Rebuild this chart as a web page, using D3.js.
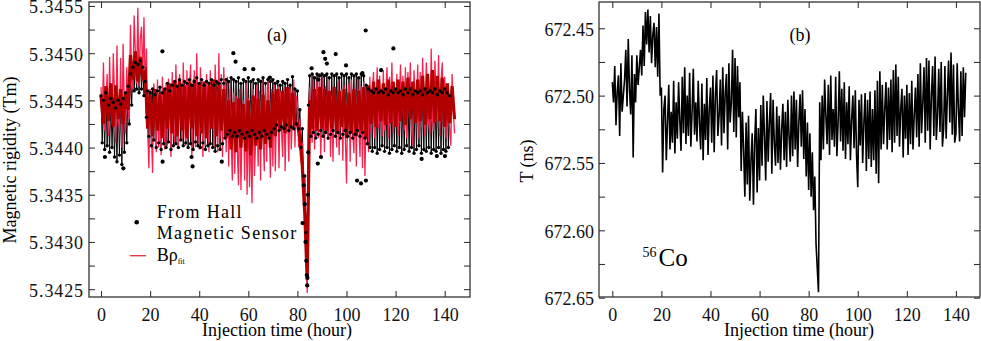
<!DOCTYPE html>
<html>
<head>
<meta charset="utf-8">
<script src="https://cdn.jsdelivr.net/npm/d3@7"></script>
<style>
body { margin: 0; background: #fff; }
svg { display: block; font-family: "Liberation Serif", "Times New Roman", Times, serif; }
.axis line { stroke: #333; stroke-width: 1.1; }
.axis path { display: none; }
.axis text { font-family: "Liberation Serif", "Times New Roman", Times, serif; font-size: 18px; fill: #111; }
</style>
</head>
<body>
<svg id="chart" width="981" height="341"></svg>
<script>
// sampling grid of the traces (hours)
const hours = d3.range(0, 144.01, 0.5);
const hoursCore = d3.range(0, 144.01, 1);

// (a) B rho fit, every 0.5 h
const rhoFit = [
  5.34464, 5.34430, 5.34490, 5.34418, 5.34450, 5.34478, 5.34412, 5.34496, 5.34440, 5.34425,
  5.34500, 5.34455, 5.34405, 5.34508, 5.34430, 5.34420, 5.34495, 5.34400, 5.34510, 5.34445,
  5.34415, 5.34485, 5.34440, 5.34430, 5.34530, 5.34470, 5.34462, 5.34540, 5.34500, 5.34468,
  5.34548, 5.34465, 5.34515, 5.34528, 5.34470, 5.34538, 5.34460, 5.34505, 5.34420, 5.34378,
  5.34462, 5.34420, 5.34373, 5.34468, 5.34440, 5.34395, 5.34472, 5.34400, 5.34450, 5.34392,
  5.34475, 5.34430, 5.34398, 5.34468, 5.34402, 5.34473, 5.34445, 5.34390, 5.34480, 5.34420,
  5.34405, 5.34488, 5.34440, 5.34400, 5.34478, 5.34455, 5.34408, 5.34490, 5.34425, 5.34402,
  5.34482, 5.34410, 5.34460, 5.34488, 5.34392, 5.34445, 5.34482, 5.34400, 5.34500, 5.34430,
  5.34398, 5.34485, 5.34450, 5.34390, 5.34470, 5.34402, 5.34478, 5.34435, 5.34395, 5.34482,
  5.34420, 5.34472, 5.34400, 5.34488, 5.34445, 5.34395, 5.34500, 5.34410, 5.34478, 5.34390,
  5.34485, 5.34440, 5.34395, 5.34475, 5.34380, 5.34462, 5.34410, 5.34365, 5.34458, 5.34372,
  5.34455, 5.34400, 5.34360, 5.34462, 5.34355, 5.34430, 5.34450, 5.34365, 5.34468, 5.34350,
  5.34452, 5.34358, 5.34420, 5.34341, 5.34462, 5.34370, 5.34410, 5.34468, 5.34380, 5.34460,
  5.34365, 5.34472, 5.34420, 5.34375, 5.34465, 5.34385, 5.34475, 5.34430, 5.34368, 5.34462,
  5.34380, 5.34470, 5.34375, 5.34440, 5.34465, 5.34378, 5.34460, 5.34420, 5.34390, 5.34464,
  5.34375, 5.34458, 5.34430, 5.34385, 5.34462, 5.34398, 5.34440, 5.34472, 5.34400, 5.34455,
  5.34445, 5.34400, 5.34430, 5.34385, 5.34405, 5.34340, 5.34370, 5.34290, 5.34246, 5.34412,
  5.34464, 5.34430, 5.34405, 5.34478, 5.34398, 5.34450, 5.34470, 5.34410, 5.34479, 5.34392,
  5.34440, 5.34475, 5.34395, 5.34465, 5.34420, 5.34408, 5.34472, 5.34390, 5.34455, 5.34385,
  5.34462, 5.34430, 5.34400, 5.34470, 5.34392, 5.34445, 5.34462, 5.34386, 5.34466, 5.34415,
  5.34362, 5.34450, 5.34468, 5.34385, 5.34472, 5.34420, 5.34394, 5.34460, 5.34380, 5.34475,
  5.34425, 5.34390, 5.34465, 5.34378, 5.34470, 5.34370, 5.34440, 5.34462, 5.34395, 5.34475,
  5.34415, 5.34460, 5.34480, 5.34410, 5.34445, 5.34485, 5.34420, 5.34476, 5.34438, 5.34412,
  5.34482, 5.34418, 5.34455, 5.34485, 5.34410, 5.34475, 5.34440, 5.34490, 5.34415, 5.34468,
  5.34428, 5.34478, 5.34412, 5.34450, 5.34488, 5.34430, 5.34476, 5.34418, 5.34485, 5.34410,
  5.34480, 5.34445, 5.34490, 5.34420, 5.34402, 5.34482, 5.34450, 5.34428, 5.34488, 5.34410,
  5.34480, 5.34422, 5.34495, 5.34440, 5.34412, 5.34490, 5.34460, 5.34425, 5.34415, 5.34505,
  5.34430, 5.34418, 5.34492, 5.34455, 5.34428, 5.34498, 5.34412, 5.34470, 5.34490, 5.34420,
  5.34475, 5.34410, 5.34450, 5.34468, 5.34420, 5.34402, 5.34478, 5.34440, 5.34415
];

// (a) dense core of the fit, every 1 h
const rhoFitCore = [
  5.34455, 5.34425, 5.34465, 5.34428, 5.34468, 5.34422, 5.34466, 5.34430, 5.34462, 5.34425,
  5.34458, 5.34440, 5.34498, 5.34472, 5.34502, 5.34470, 5.34496, 5.34475, 5.34480, 5.34420,
  5.34460, 5.34412, 5.34462, 5.34418, 5.34458, 5.34410, 5.34463, 5.34420, 5.34468, 5.34415,
  5.34470, 5.34412, 5.34472, 5.34418, 5.34466, 5.34410, 5.34470, 5.34420, 5.34472, 5.34412,
  5.34468, 5.34415, 5.34470, 5.34410, 5.34466, 5.34420, 5.34472, 5.34412, 5.34468, 5.34418,
  5.34462, 5.34410, 5.34450, 5.34398, 5.34448, 5.34395, 5.34452, 5.34400, 5.34446, 5.34396,
  5.34450, 5.34392, 5.34455, 5.34402, 5.34452, 5.34398, 5.34456, 5.34404, 5.34450, 5.34400,
  5.34458, 5.34412, 5.34462, 5.34418, 5.34460, 5.34415, 5.34464, 5.34420, 5.34458, 5.34425,
  5.34425, 5.34410, 5.34380, 5.34330, 5.34260, 5.34450, 5.34420, 5.34462, 5.34418, 5.34464,
  5.34420, 5.34462, 5.34418, 5.34460, 5.34420, 5.34464, 5.34416, 5.34460, 5.34422, 5.34462,
  5.34410, 5.34458, 5.34415, 5.34462, 5.34412, 5.34460, 5.34418, 5.34464, 5.34410, 5.34466,
  5.34425, 5.34470, 5.34422, 5.34472, 5.34428, 5.34468, 5.34424, 5.34472, 5.34426, 5.34470,
  5.34422, 5.34472, 5.34428, 5.34470, 5.34424, 5.34474, 5.34430, 5.34470, 5.34426, 5.34472,
  5.34428, 5.34476, 5.34424, 5.34478, 5.34430, 5.34482, 5.34426, 5.34476, 5.34428, 5.34474,
  5.34422, 5.34468, 5.34426, 5.34465, 5.34430
];

// (a) Hall magnetic sensor, every 0.5 h
const rhoHall = [
  5.34455, 5.34405, 5.34450, 5.34398, 5.34458, 5.34402, 5.34445, 5.34395, 5.34452, 5.34400,
  5.34448, 5.34390, 5.34442, 5.34385, 5.34450, 5.34392, 5.34446, 5.34382, 5.34452, 5.34395,
  5.34458, 5.34405, 5.34465, 5.34425, 5.34478, 5.34445, 5.34485, 5.34460, 5.34490, 5.34462,
  5.34488, 5.34458, 5.34492, 5.34462, 5.34485, 5.34455, 5.34470, 5.34432, 5.34460, 5.34412,
  5.34458, 5.34402, 5.34462, 5.34408, 5.34456, 5.34400, 5.34460, 5.34405, 5.34464, 5.34398,
  5.34458, 5.34404, 5.34462, 5.34400, 5.34468, 5.34406, 5.34460, 5.34398, 5.34466, 5.34402,
  5.34470, 5.34404, 5.34465, 5.34400, 5.34472, 5.34408, 5.34466, 5.34402, 5.34470, 5.34405,
  5.34468, 5.34400, 5.34472, 5.34404, 5.34466, 5.34398, 5.34470, 5.34406, 5.34474, 5.34402,
  5.34468, 5.34400, 5.34472, 5.34405, 5.34466, 5.34398, 5.34470, 5.34402, 5.34468, 5.34404,
  5.34472, 5.34400, 5.34466, 5.34396, 5.34470, 5.34402, 5.34468, 5.34398, 5.34472, 5.34404,
  5.34468, 5.34410, 5.34472, 5.34414, 5.34470, 5.34418, 5.34474, 5.34412, 5.34472, 5.34416,
  5.34470, 5.34412, 5.34474, 5.34418, 5.34468, 5.34414, 5.34472, 5.34410, 5.34470, 5.34416,
  5.34474, 5.34412, 5.34470, 5.34418, 5.34472, 5.34414, 5.34468, 5.34410, 5.34472, 5.34416,
  5.34470, 5.34412, 5.34474, 5.34418, 5.34468, 5.34414, 5.34472, 5.34410, 5.34470, 5.34416,
  5.34472, 5.34420, 5.34468, 5.34424, 5.34470, 5.34418, 5.34466, 5.34422, 5.34470, 5.34420,
  5.34468, 5.34424, 5.34472, 5.34418, 5.34466, 5.34422, 5.34475, 5.34420, 5.34462, 5.34425,
  5.34460, 5.34420, 5.34440, 5.34400, 5.34420, 5.34370, 5.34370, 5.34310, 5.34254, 5.34445,
  5.34476, 5.34412, 5.34478, 5.34416, 5.34474, 5.34410, 5.34478, 5.34414, 5.34476, 5.34418,
  5.34478, 5.34412, 5.34476, 5.34416, 5.34478, 5.34410, 5.34474, 5.34414, 5.34478, 5.34418,
  5.34476, 5.34412, 5.34478, 5.34416, 5.34474, 5.34410, 5.34478, 5.34414, 5.34476, 5.34418,
  5.34478, 5.34412, 5.34474, 5.34416, 5.34478, 5.34410, 5.34476, 5.34414, 5.34478, 5.34418,
  5.34474, 5.34412, 5.34478, 5.34416, 5.34476, 5.34410, 5.34466, 5.34404, 5.34462, 5.34400,
  5.34460, 5.34396, 5.34458, 5.34400, 5.34462, 5.34394, 5.34458, 5.34398, 5.34460, 5.34402,
  5.34458, 5.34396, 5.34462, 5.34400, 5.34456, 5.34394, 5.34460, 5.34398, 5.34458, 5.34402,
  5.34462, 5.34396, 5.34458, 5.34400, 5.34460, 5.34394, 5.34456, 5.34398, 5.34462, 5.34402,
  5.34458, 5.34396, 5.34462, 5.34400, 5.34456, 5.34394, 5.34460, 5.34398, 5.34458, 5.34402,
  5.34460, 5.34394, 5.34456, 5.34398, 5.34462, 5.34396, 5.34458, 5.34400, 5.34460, 5.34394,
  5.34458, 5.34398, 5.34462, 5.34396, 5.34456, 5.34400, 5.34460, 5.34394, 5.34458, 5.34398,
  5.34462, 5.34396, 5.34458, 5.34400, 5.34455
];

// (a) scattered Hall readings away from the band
const hallExtraHours = [1.6, 9.1, 25.0, 25.1, 36.9, 37.3, 49.2, 53.9, 54.8, 58.5, 62.0, 68.8,
  82.1, 82.6, 83.0, 83.3, 83.6, 83.8, 84.0, 84.1, 84.3, 84.4,
  85.8, 88.3, 88.5, 89.6, 90.6, 91.3, 92.0, 95.6, 99.8, 104.3, 105.9, 107.9,
  106.5, 107.8, 114.1, 119.1, 130.6, 136.8, 140.1];
const hallExtraRho = [5.34390, 5.34378, 5.34502, 5.34385, 5.34390, 5.34380, 5.34385, 5.34500, 5.34491, 5.34483, 5.34483, 5.34474,
  5.34320, 5.34360, 5.34340, 5.34300, 5.34280, 5.34265, 5.34254, 5.34262, 5.34350, 5.34395,
  5.34484, 5.34383, 5.34472, 5.34390, 5.34501, 5.34494, 5.34489, 5.34499, 5.34487, 5.34365, 5.34362, 5.34365,
  5.34479, 5.34524, 5.34482, 5.34505, 5.34388, 5.34391, 5.34391];

// (b) time of flight T (ns), every 0.5 h
const tofT = [
  672.490, 672.505, 672.478, 672.522, 672.497, 672.485, 672.530, 672.476, 672.512, 672.500,
  672.488, 672.466, 672.508, 672.458, 672.495, 672.514, 672.470, 672.546, 672.484, 672.505,
  672.470, 672.492, 672.479, 672.466, 672.485, 672.448, 672.478, 672.438, 672.462, 672.436,
  672.468, 672.441, 672.476, 672.455, 672.446, 672.479, 672.449, 672.486, 672.439, 672.500,
  672.494, 672.557, 672.510, 672.500, 672.548, 672.520, 672.492, 672.540, 672.512, 672.535,
  672.489, 672.543, 672.505, 672.532, 672.490, 672.518, 672.541, 672.486, 672.528, 672.479,
  672.536, 672.500, 672.530, 672.483, 672.538, 672.512, 672.480, 672.529, 672.505, 672.534,
  672.489, 672.520, 672.540, 672.491, 672.548, 672.506, 672.533, 672.487, 672.544, 672.510,
  672.494, 672.535, 672.485, 672.542, 672.500, 672.481, 672.530, 672.515, 672.488, 672.537,
  672.479, 672.528, 672.498, 672.484, 672.540, 672.476, 672.520, 672.505, 672.466, 672.527,
  672.472, 672.531, 672.478, 672.516, 672.490, 672.556, 672.512, 672.540, 672.575, 672.520,
  672.566, 672.515, 672.578, 672.548, 672.528, 672.581, 672.535, 672.510, 672.572, 672.524,
  672.563, 672.507, 672.552, 672.500, 672.530, 672.563, 672.504, 672.549, 672.520, 672.498,
  672.558, 672.503, 672.535, 672.552, 672.508, 672.550, 672.515, 672.555, 672.525, 672.506,
  672.548, 672.512, 672.553, 672.503, 672.530, 672.549, 672.500, 672.545, 672.497, 672.540,
  672.503, 672.553, 672.520, 672.499, 672.538, 672.496, 672.547, 672.510, 672.560, 672.520,
  672.570, 672.528, 672.575, 672.542, 672.585, 672.560, 672.610, 672.628, 672.646, 672.505,
  672.548, 672.500, 672.540, 672.488, 672.515, 672.536, 672.492, 672.544, 672.485, 672.533,
  672.510, 672.538, 672.486, 672.545, 672.520, 672.482, 672.534, 672.495, 672.541, 672.490,
  672.547, 672.505, 672.536, 672.493, 672.548, 672.518, 672.500, 672.539, 672.496, 672.544,
  672.568, 672.503, 672.537, 672.499, 672.550, 672.520, 672.498, 672.556, 672.503, 672.547,
  672.497, 672.553, 672.510, 672.548, 672.496, 672.558, 672.489, 672.565, 672.482, 672.540,
  672.492, 672.536, 672.510, 672.490, 672.540, 672.494, 672.533, 672.488, 672.542, 672.481,
  672.535, 672.477, 672.530, 672.486, 672.538, 672.510, 672.495, 672.546, 672.500, 672.532,
  672.492, 672.544, 672.498, 672.536, 672.489, 672.540, 672.515, 672.494, 672.531, 672.484,
  672.538, 672.476, 672.528, 672.505, 672.479, 672.535, 672.472, 672.526, 672.474, 672.540,
  672.500, 672.478, 672.530, 672.471, 672.533, 672.515, 672.480, 672.527, 672.475, 672.538,
  672.524, 672.478, 672.532, 672.500, 672.474, 672.520, 672.468, 672.529, 672.477, 672.535,
  672.528, 672.476, 672.510, 672.534, 672.482, 672.530, 672.479, 672.516, 672.483
];

const hourTicks = [0, 20, 40, 60, 80, 100, 120, 140];
const rhoTicks = [5.3425, 5.3430, 5.3435, 5.3440, 5.3445, 5.3450, 5.3455];
const rhoMinorTicks = [5.34275, 5.34325, 5.34375, 5.34425, 5.34475, 5.34525];
const tTicks = [672.45, 672.50, 672.55, 672.60, 672.65];
const tMinorTicks = [672.475, 672.525, 672.575, 672.625];

const svg = d3.select("#chart");

function drawFrame(x, y, majors, minors, fmt, labelSpacing) {
    const [left, right] = x.range();
    const top = Math.min(...y.range());
    const bottom = Math.max(...y.range());

    svg.append("g").attr("class", "axis")
        .attr("transform", `translate(0,${bottom})`)
        .call(d3.axisBottom(x).tickValues(hourTicks).tickSizeInner(-6).tickSizeOuter(0).tickPadding(11));
    svg.append("g").attr("class", "axis")
        .attr("transform", `translate(0,${top})`)
        .call(d3.axisTop(x).tickValues(hourTicks).tickSizeInner(-6).tickSizeOuter(0).tickFormat(""));

    const yl = svg.append("g").attr("class", "axis")
        .attr("transform", `translate(${left},0)`)
        .call(d3.axisLeft(y).tickValues(majors).tickSizeInner(-6).tickSizeOuter(0).tickPadding(5).tickFormat(fmt));
    yl.selectAll("text").attr("dy", "0.38em").style("letter-spacing", labelSpacing + "px");
    svg.append("g").attr("class", "axis")
        .attr("transform", `translate(${left},0)`)
        .call(d3.axisLeft(y).tickValues(minors).tickSizeInner(-6).tickSizeOuter(0).tickFormat(""));
    svg.append("g").attr("class", "axis")
        .attr("transform", `translate(${right},0)`)
        .call(d3.axisRight(y).tickValues(majors.concat(minors)).tickSizeInner(-6).tickSizeOuter(0).tickFormat(""));

    svg.append("rect")
        .attr("x", left).attr("y", top)
        .attr("width", right - left).attr("height", bottom - top)
        .attr("fill", "none").attr("stroke", "#333").attr("stroke-width", 1.3);
}

function addClip(id, x, y) {
    const [left, right] = x.range();
    const top = Math.min(...y.range());
    const bottom = Math.max(...y.range());
    svg.append("clipPath").attr("id", id).append("rect")
        .attr("x", left).attr("y", top).attr("width", right - left).attr("height", bottom - top);
}

function renderPanelA() {
    const x = d3.scaleLinear().domain([-4.89, 150.3]).range([89, 470]);
    const y = d3.scaleLinear().domain([5.342417, 5.345542]).range([297, 2]);
    addClip("clipA", x, y);
    const plot = svg.append("g").attr("clip-path", "url(#clipA)");

    const line = times => d3.line()
        .defined((d, i) => i < times.length)
        .x((d, i) => x(times[i]))
        .y(d => y(d));

    // Hall trace underneath, the fit drawn over it
    plot.append("path")
        .attr("d", line(hours)(rhoHall))
        .attr("fill", "none").attr("stroke", "#000").attr("stroke-width", 1);

    plot.append("path")
        .attr("d", line(hours)(rhoFit))
        .attr("fill", "none").attr("stroke", "#f7224d").attr("stroke-width", 1.3);

    plot.append("path")
        .attr("d", line(hoursCore)(rhoFitCore))
        .attr("fill", "none").attr("stroke", "#b20000").attr("stroke-width", 3.2);

    plot.selectAll(".hall")
        .data(rhoHall.slice(0, hours.length))
        .join("circle")
        .attr("class", "hall")
        .attr("cx", (d, i) => x(hours[i]))
        .attr("cy", d => y(d))
        .attr("r", 1.7)
        .attr("fill", "#000");

    plot.selectAll(".extra")
        .data(hallExtraRho)
        .join("circle")
        .attr("class", "extra")
        .attr("cx", (d, i) => x(hallExtraHours[i]))
        .attr("cy", d => y(d))
        .attr("r", 2.1)
        .attr("fill", "#000");

    drawFrame(x, y, rhoTicks, rhoMinorTicks, d3.format(".4f"), 0.9);

    svg.append("text")
        .attr("transform", "translate(16,160) rotate(-90)")
        .attr("text-anchor", "middle")
        .style("font-size", "18px")
        .text("Magnetic rigidity (Tm)");
    svg.append("text")
        .attr("x", 277).attr("y", 336).attr("text-anchor", "middle")
        .style("font-size", "18px")
        .text("Injection time (hour)");
    svg.append("text")
        .attr("x", 277).attr("y", 41).attr("text-anchor", "middle")
        .style("font-size", "18px")
        .text("(a)");

    // legend
    svg.append("circle").attr("cx", 136.7).attr("cy", 222.3).attr("r", 2.3).attr("fill", "#000");
    svg.append("text").attr("x", 156.7).attr("y", 218)
        .style("font-size", "18px").style("letter-spacing", "1.3px").text("From Hall");
    svg.append("text").attr("x", 156.7).attr("y", 239)
        .style("font-size", "18px").style("letter-spacing", "1.3px").text("Magnetic Sensor");
    svg.append("line").attr("x1", 130).attr("x2", 146).attr("y1", 255.7).attr("y2", 255.7)
        .attr("stroke", "#ee2a3a").attr("stroke-width", 1.3);
    const br = svg.append("text").attr("x", 156.7).attr("y", 260.7).style("font-size", "18px");
    br.append("tspan").text("Bρ");
    br.append("tspan").attr("dy", 3).style("font-size", "8px").text("fit");
}

function renderPanelB() {
    const x = d3.scaleLinear().domain([-5.42, 149.8]).range([599, 980]);
    const y = d3.scaleLinear().domain([672.4305, 672.6495]).range([2, 297]);
    addClip("clipB", x, y);
    const plot = svg.append("g").attr("clip-path", "url(#clipB)");

    plot.append("path")
        .attr("d", d3.line()
            .defined((d, i) => i < hours.length)
            .x((d, i) => x(hours[i]))
            .y(d => y(d))(tofT))
        .attr("fill", "none").attr("stroke", "#000").attr("stroke-width", 1.6);

    drawFrame(x, y, tTicks, tMinorTicks, d3.format(".2f"), 0);

    svg.append("text")
        .attr("transform", "translate(533,161) rotate(-90)")
        .attr("text-anchor", "middle")
        .style("font-size", "18px")
        .text("T (ns)");
    svg.append("text")
        .attr("x", 799).attr("y", 336).attr("text-anchor", "middle")
        .style("font-size", "18px")
        .text("Injection time (hour)");
    svg.append("text")
        .attr("x", 800).attr("y", 41).attr("text-anchor", "middle")
        .style("font-size", "18px")
        .text("(b)");
    svg.append("text").attr("x", 642.5).attr("y", 257).style("font-size", "14px").text("56");
    svg.append("text").attr("x", 658.5).attr("y", 266).style("font-size", "25px").text("Co");
}

renderPanelA();
renderPanelB();
</script>
</body>
</html>
